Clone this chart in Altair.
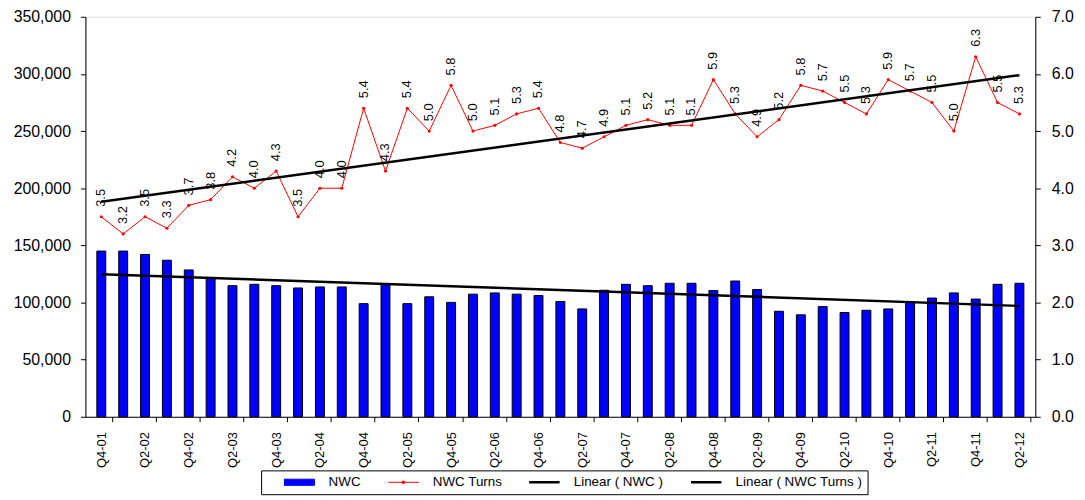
import altair as alt
import pandas as pd
import json

quarters = ["Q4-01", "Q1-02", "Q2-02", "Q3-02", "Q4-02", "Q1-03", "Q2-03", "Q3-03", "Q4-03",
            "Q1-04", "Q2-04", "Q3-04", "Q4-04", "Q1-05", "Q2-05", "Q3-05", "Q4-05",
            "Q1-06", "Q2-06", "Q3-06", "Q4-06", "Q1-07", "Q2-07", "Q3-07", "Q4-07",
            "Q1-08", "Q2-08", "Q3-08", "Q4-08", "Q1-09", "Q2-09", "Q3-09", "Q4-09",
            "Q1-10", "Q2-10", "Q3-10", "Q4-10", "Q1-11", "Q2-11", "Q3-11", "Q4-11",
            "Q1-12", "Q2-12"]

nwc = [145000, 145000, 142000, 137000, 128500, 121000, 114700, 115900, 114700, 112700,
       113600, 113600, 99000, 116400, 99000, 105000, 100100, 107300, 108400, 107300,
       106100, 100900, 94400, 110700, 115900, 114700, 116800, 116800, 110400, 118800,
       111300, 92300, 89200, 96400, 91200, 93200, 94400, 100100, 103900, 108400,
       103000, 115900, 116800]

turns = [3.5, 3.2, 3.5, 3.3, 3.7, 3.8, 4.2, 4.0, 4.3, 3.5, 4.0, 4.0, 5.4, 4.3, 5.4,
         5.0, 5.8, 5.0, 5.1, 5.3, 5.4, 4.8, 4.7, 4.9, 5.1, 5.2, 5.1, 5.1, 5.9, 5.3,
         4.9, 5.2, 5.8, 5.7, 5.5, 5.3, 5.9, 5.7, 5.5, 5.0, 6.3, 5.5, 5.3]

series = ["NWC", "NWC Turns", "Linear ( NWC )", "Linear ( NWC Turns )"]
series_colors = ["#0000FF", "#FF0000", "#000000", "#000000"]

df = pd.DataFrame({"idx": list(range(len(quarters))), "quarter": quarters,
                   "nwc": nwc, "turns": turns})

FONT = "Liberation Sans"
W, H = 957, 403
half = W / len(quarters) / 2

label_arr = json.dumps(quarters).replace('"', "'")

x_enc = alt.X(
    "idx:Q",
    scale=alt.Scale(domain=[-0.5, len(quarters) - 0.5], nice=False, zero=False),
    axis=alt.Axis(
        values=list(range(len(quarters))),
        labelExpr=f"datum.value % 2 == 0 ? {label_arr}[datum.value] : ''",
        tickOffset=half, labelOffset=-half,
        labelAngle=270, labelFontSize=13, labelFont=FONT, labelColor="black",
        tickSize=5, tickColor="black", domainColor="black", labelPadding=10,
        labelOverlap=False, labelBound=False, labelFlush=False,
        grid=False, title=None,
    ),
)

sym_shape = ("datum.value === 'NWC' ? 'M-1,-0.2H1V0.2H-1Z' : "
             "datum.value === 'NWC Turns' ? "
             "'M-1,0H1M-0.09,0A0.09,0.09,0,1,1,0.09,0A0.09,0.09,0,1,1,-0.09,0' : 'M-1,0H1'")
sym_fill = ("datum.value === 'NWC' ? '#0000FF' : datum.value === 'NWC Turns' ? '#FF0000' : 'transparent'")
sym_stroke = ("datum.value === 'NWC' ? '#000000' : datum.value === 'NWC Turns' ? '#FF0000' : '#000000'")
sym_sw = "datum.value === 'NWC' ? 1 : datum.value === 'NWC Turns' ? 1 : 2.5"

legend = alt.Legend(
    orient="none", legendX=177, legendY=457,
    direction="horizontal", columns=4,
    title=" ", titleOrient="left", titlePadding=18, titleFontSize=13,
    strokeColor="black", fillColor="white", padding=5, columnPadding=27,
    labelFontSize=13.5, labelFont=FONT, labelColor="black",
    symbolSize=961, clipHeight=14, symbolOffset=8.5, labelOffset=23,
    symbolType=alt.ExprRef(sym_shape),
    symbolFillColor=alt.ExprRef(sym_fill),
    symbolStrokeColor=alt.ExprRef(sym_stroke),
    symbolStrokeWidth=alt.ExprRef(sym_sw),
    symbolOpacity=1,
)

color_enc = alt.Color("s:N", scale=alt.Scale(domain=series, range=series_colors),
                      legend=legend, sort=series)

y_left = alt.Y(
    "nwc:Q",
    scale=alt.Scale(domain=[0, 350000], nice=False),
    axis=alt.Axis(values=list(range(0, 350001, 50000)), format=",.0f", title=None,
                  labelFontSize=16, labelFont=FONT, labelColor="black",
                  tickSize=5, tickColor="black", domainColor="black",
                  labelPadding=10, grid=False),
)
y_right = alt.Y(
    "turns:Q",
    scale=alt.Scale(domain=[0, 7], nice=False),
    axis=alt.Axis(values=[0, 1, 2, 3, 4, 5, 6, 7], format=".1f", title=None, orient="right",
                  labelFontSize=16, labelFont=FONT, labelColor="black",
                  tickSize=5, tickColor="black", domainColor="black",
                  labelPadding=11, grid=False),
)

base = alt.Chart(df)

bars = base.transform_calculate(s="'NWC'").mark_bar(
    size=9, stroke="black", strokeWidth=1).encode(
    x=x_enc, y=y_left, color=color_enc,
)
trend_nwc = base.transform_regression("idx", "nwc").transform_calculate(
    s="'Linear ( NWC )'").mark_line(strokeWidth=2.5).encode(
    x="idx:Q", y="nwc:Q", color="s:N",
)
left = alt.layer(bars, trend_nwc)

turn_line = base.transform_calculate(s="'NWC Turns'").mark_line(strokeWidth=1).encode(
    x="idx:Q", y=y_right, color="s:N",
)
turn_pts = base.mark_point(filled=True, size=10, color="#FF0000", opacity=1).encode(
    x="idx:Q", y="turns:Q",
)
turn_text = base.mark_text(angle=270, align="left", baseline="middle", dx=10,
                           fontSize=13, font=FONT, color="black").encode(
    x="idx:Q", y="turns:Q", text=alt.Text("turns:Q", format=".1f"),
)
trend_turns = base.transform_regression("idx", "turns").transform_calculate(
    s="'Linear ( NWC Turns )'").mark_line(strokeWidth=2.5).encode(
    x="idx:Q", y="turns:Q", color="s:N",
)
right = alt.layer(turn_line, turn_pts, trend_turns, turn_text)

chart = alt.layer(left, right).resolve_scale(y="independent").properties(
    width=W, height=H,
    autosize=alt.AutoSizeParams(type="none"),
    padding={"left": 78, "top": 7, "right": 42, "bottom": 82},
).configure_view(stroke="#A0A0A0", strokeWidth=1).configure(background="white")

chart.save("out.html", embed_options={"renderer": "svg", "actions": False})
